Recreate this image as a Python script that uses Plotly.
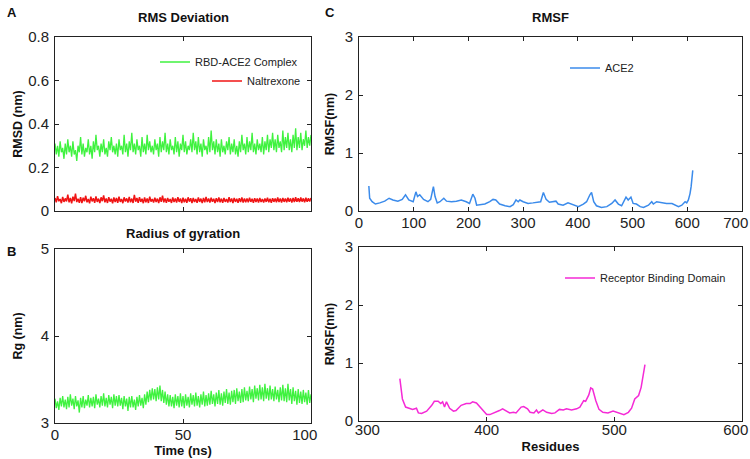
import numpy as np
import plotly.graph_objects as go

# time axis (ns), 0.5 ns per frame
time_ns = np.linspace(0, 100, 201)

rmsd_complex = [
    0.31, 0.26, 0.30, 0.25, 0.32, 0.27, 0.29, 0.24, 0.31, 0.26,
    0.33, 0.27, 0.30, 0.25, 0.32, 0.26, 0.28, 0.23, 0.30, 0.27,
    0.34, 0.26, 0.31, 0.25, 0.29, 0.27, 0.33, 0.26, 0.30, 0.24,
    0.32, 0.27, 0.35, 0.28, 0.30, 0.25, 0.31, 0.27, 0.33, 0.26,
    0.29, 0.25, 0.32, 0.28, 0.34, 0.27, 0.30, 0.26, 0.31, 0.25,
    0.33, 0.28, 0.30, 0.26, 0.35, 0.27, 0.31, 0.25, 0.32, 0.28,
    0.36, 0.27, 0.31, 0.26, 0.33, 0.28, 0.30, 0.25, 0.34, 0.27,
    0.31, 0.26, 0.35, 0.28, 0.32, 0.27, 0.30, 0.26, 0.33, 0.28,
    0.31, 0.25, 0.34, 0.27, 0.32, 0.28, 0.36, 0.27, 0.31, 0.26,
    0.33, 0.28, 0.30, 0.26, 0.34, 0.27, 0.32, 0.25, 0.31, 0.28,
    0.35, 0.27, 0.32, 0.26, 0.30, 0.28, 0.33, 0.27, 0.36, 0.28,
    0.32, 0.26, 0.34, 0.27, 0.31, 0.25, 0.33, 0.28, 0.30, 0.26,
    0.34, 0.27, 0.37, 0.28, 0.32, 0.26, 0.33, 0.27, 0.31, 0.25,
    0.33, 0.27, 0.30, 0.26, 0.32, 0.28, 0.34, 0.26, 0.31, 0.27,
    0.33, 0.26, 0.30, 0.25, 0.32, 0.27, 0.35, 0.28, 0.31, 0.26,
    0.34, 0.27, 0.32, 0.28, 0.36, 0.27, 0.31, 0.26, 0.33, 0.28,
    0.31, 0.27, 0.34, 0.26, 0.32, 0.28, 0.35, 0.27, 0.33, 0.29,
    0.36, 0.28, 0.33, 0.27, 0.35, 0.29, 0.32, 0.27, 0.37, 0.28,
    0.34, 0.29, 0.36, 0.28, 0.33, 0.27, 0.35, 0.29, 0.38, 0.28,
    0.34, 0.29, 0.36, 0.28, 0.33, 0.30, 0.37, 0.29, 0.34, 0.30,
    0.35,
]

rmsd_naltrexone = [
    0.060, 0.040, 0.068, 0.045, 0.055, 0.036, 0.065, 0.042, 0.058, 0.044,
    0.075, 0.040, 0.060, 0.035, 0.066, 0.046, 0.080, 0.041, 0.056, 0.038,
    0.064, 0.036, 0.061, 0.045, 0.070, 0.040, 0.055, 0.035, 0.066, 0.044,
    0.059, 0.038, 0.067, 0.042, 0.057, 0.036, 0.063, 0.045, 0.072, 0.040,
    0.058, 0.037, 0.064, 0.043, 0.056, 0.035, 0.062, 0.041, 0.060, 0.038,
    0.066, 0.042, 0.055, 0.036, 0.063, 0.044, 0.058, 0.039, 0.065, 0.040,
    0.057, 0.037, 0.074, 0.043, 0.060, 0.038, 0.064, 0.042, 0.056, 0.036,
    0.062, 0.040, 0.058, 0.037, 0.066, 0.043, 0.055, 0.039, 0.061, 0.041,
    0.057, 0.036, 0.063, 0.042, 0.071, 0.040, 0.058, 0.038, 0.060, 0.043,
    0.055, 0.037, 0.062, 0.041, 0.057, 0.039, 0.064, 0.042, 0.058, 0.036,
    0.061, 0.040, 0.056, 0.038, 0.063, 0.043, 0.059, 0.037, 0.060, 0.041,
    0.055, 0.038, 0.062, 0.042, 0.057, 0.036, 0.060, 0.040, 0.065, 0.041,
    0.058, 0.039, 0.061, 0.043, 0.056, 0.037, 0.059, 0.041, 0.062, 0.040,
    0.057, 0.038, 0.060, 0.042, 0.055, 0.039, 0.063, 0.041, 0.058, 0.037,
    0.060, 0.042, 0.056, 0.038, 0.059, 0.041, 0.062, 0.039, 0.057, 0.040,
    0.058, 0.040, 0.061, 0.042, 0.056, 0.038, 0.059, 0.041, 0.057, 0.039,
    0.060, 0.041, 0.055, 0.039, 0.058, 0.042, 0.061, 0.040, 0.056, 0.038,
    0.059, 0.042, 0.057, 0.040, 0.062, 0.041, 0.058, 0.039, 0.060, 0.042,
    0.057, 0.040, 0.061, 0.043, 0.058, 0.039, 0.060, 0.041, 0.063, 0.042,
    0.059, 0.041, 0.062, 0.043, 0.058, 0.040, 0.061, 0.042, 0.059, 0.044,
    0.060,
]

rg_complex = [
    3.28, 3.17, 3.25, 3.15, 3.29, 3.19, 3.31, 3.18, 3.27, 3.16,
    3.30, 3.18, 3.33, 3.20, 3.28, 3.16, 3.31, 3.19, 3.26, 3.12,
    3.29, 3.18, 3.31, 3.17, 3.27, 3.20, 3.32, 3.18, 3.29, 3.19,
    3.30, 3.17, 3.33, 3.21, 3.28, 3.18, 3.31, 3.20, 3.34, 3.19,
    3.29, 3.18, 3.32, 3.21, 3.30, 3.17, 3.33, 3.20, 3.31, 3.19,
    3.32, 3.20, 3.29, 3.16, 3.31, 3.19, 3.28, 3.14, 3.30, 3.18,
    3.31, 3.18, 3.27, 3.15, 3.30, 3.19, 3.32, 3.20, 3.29, 3.17,
    3.33, 3.21, 3.36, 3.24, 3.38, 3.26, 3.40, 3.27, 3.39, 3.25,
    3.41, 3.27, 3.43, 3.25, 3.38, 3.23, 3.36, 3.21, 3.33, 3.19,
    3.32, 3.19, 3.30, 3.17, 3.33, 3.20, 3.31, 3.18, 3.34, 3.19,
    3.31, 3.17, 3.33, 3.20, 3.30, 3.18, 3.34, 3.21, 3.32, 3.19,
    3.35, 3.20, 3.31, 3.18, 3.33, 3.21, 3.36, 3.19, 3.32, 3.20,
    3.34, 3.21, 3.37, 3.22, 3.33, 3.19, 3.35, 3.22, 3.38, 3.21,
    3.34, 3.20, 3.36, 3.23, 3.39, 3.22, 3.35, 3.21, 3.37, 3.24,
    3.38, 3.22, 3.40, 3.25, 3.36, 3.23, 3.39, 3.24, 3.41, 3.26,
    3.37, 3.25, 3.42, 3.27, 3.39, 3.24, 3.43, 3.28, 3.40, 3.26,
    3.44, 3.27, 3.41, 3.25, 3.45, 3.28, 3.40, 3.26, 3.43, 3.27,
    3.39, 3.25, 3.42, 3.27, 3.38, 3.24, 3.41, 3.26, 3.44, 3.25,
    3.40, 3.24, 3.45, 3.26, 3.39, 3.22, 3.41, 3.25, 3.37, 3.21,
    3.39, 3.23, 3.36, 3.22, 3.38, 3.24, 3.35, 3.21, 3.38, 3.23,
    3.33,
]

ace2_res = [
    18, 19.5, 24, 30, 38, 47, 55, 62, 71, 79,
    85, 91, 99, 104, 107, 111, 118, 126, 131, 136,
    139, 143, 148, 155, 160, 169, 178, 187, 196, 202,
    208, 212, 215, 221, 230, 239, 245, 250, 257, 267,
    276, 282, 287, 291, 294, 300, 309, 318, 327, 332,
    337, 342, 348, 355, 360, 364, 373, 382, 392, 401,
    410, 416, 422, 425, 429, 434, 443, 453, 462, 468,
    474, 480, 488, 492, 497, 501, 507, 514, 520, 529,
    535, 538, 544, 553, 562, 572, 578, 584, 590, 596,
    599, 602, 605, 607, 610,
]
ace2_rmsf = [
    0.43, 0.22, 0.16, 0.12, 0.14, 0.17, 0.22, 0.19, 0.17, 0.20,
    0.28, 0.19, 0.16, 0.33, 0.25, 0.28, 0.20, 0.16, 0.20, 0.42,
    0.25, 0.14, 0.16, 0.22, 0.17, 0.16, 0.17, 0.19, 0.16, 0.13,
    0.29, 0.22, 0.10, 0.11, 0.12, 0.16, 0.20, 0.19, 0.12, 0.09,
    0.075, 0.11, 0.19, 0.16, 0.19, 0.16, 0.13, 0.14, 0.16, 0.16,
    0.32, 0.20, 0.15, 0.16, 0.17, 0.12, 0.10, 0.14, 0.10, 0.075,
    0.12, 0.16, 0.28, 0.32, 0.16, 0.09, 0.06, 0.075, 0.13, 0.19,
    0.12, 0.09, 0.24, 0.19, 0.24, 0.13, 0.12, 0.075, 0.06, 0.10,
    0.16, 0.12, 0.16, 0.14, 0.13, 0.13, 0.10, 0.075, 0.10, 0.16,
    0.14, 0.19, 0.30, 0.42, 0.70,
]

rbd_res = [
    332, 334, 336.5, 340, 342, 345, 346.5, 349, 353, 357,
    359, 362, 364, 365.5, 367, 368.5, 371, 374, 376, 380,
    384, 387, 389, 392, 395, 397, 400, 402.5, 406, 410,
    412.5, 415.5, 418, 421, 423, 427, 429, 432, 434, 437,
    439, 440.5, 443, 444, 447, 451, 453.5, 457, 460, 462.5,
    466.5, 470.5, 473, 476, 477.5, 480, 481.5, 483, 485.5, 488,
    491, 495, 499, 502, 504.5, 507.5, 511, 513.5, 516, 519,
    521, 523, 524,
]
rbd_rmsf = [
    0.73, 0.38, 0.24, 0.22, 0.20, 0.22, 0.14, 0.13, 0.17, 0.27,
    0.34, 0.34, 0.30, 0.33, 0.24, 0.33, 0.22, 0.17, 0.18, 0.27,
    0.30, 0.30, 0.33, 0.31, 0.24, 0.18, 0.11, 0.11, 0.14, 0.18,
    0.21, 0.17, 0.14, 0.15, 0.14, 0.24, 0.25, 0.21, 0.15, 0.14,
    0.19, 0.14, 0.18, 0.19, 0.15, 0.13, 0.14, 0.20, 0.19, 0.21,
    0.19, 0.21, 0.24, 0.35, 0.34, 0.45, 0.57, 0.55, 0.35, 0.20,
    0.15, 0.14, 0.17, 0.15, 0.14, 0.11, 0.15, 0.22, 0.38, 0.44,
    0.58, 0.84, 0.97,
]

GREEN = '#3ff23f'
RED = '#f01414'
BLUE = '#3b8beb'
MAGENTA = '#f52ad6'
FONT = 'Liberation Sans, Arial, sans-serif'

fig = go.Figure()
fig.add_trace(go.Scatter(x=time_ns, y=rmsd_complex, mode='lines', name='RBD-ACE2 Complex',
                         line=dict(color=GREEN, width=1.3), xaxis='x', yaxis='y', legend='legend'))
fig.add_trace(go.Scatter(x=time_ns, y=rmsd_naltrexone, mode='lines', name='Naltrexone',
                         line=dict(color=RED, width=1.5), xaxis='x', yaxis='y', legend='legend2'))
fig.add_trace(go.Scatter(x=time_ns, y=rg_complex, mode='lines', name='Rg',
                         line=dict(color=GREEN, width=1.3), xaxis='x2', yaxis='y2', showlegend=False))
fig.add_trace(go.Scatter(x=ace2_res, y=ace2_rmsf, mode='lines', name='ACE2',
                         line=dict(color=BLUE, width=1.5), xaxis='x3', yaxis='y3', legend='legend3'))
fig.add_trace(go.Scatter(x=rbd_res, y=rbd_rmsf, mode='lines', name='Receptor Binding Domain',
                         line=dict(color=MAGENTA, width=1.5), xaxis='x4', yaxis='y4', legend='legend4'))

W, H = 750, 459


def px(x):
    return x / W


def py(y):
    return 1 - y / H


axis_style = dict(showline=True, linecolor='#222', linewidth=1, mirror='ticks', ticks='inside',
                  ticklen=4, tickcolor='#222', showgrid=False, zeroline=False, automargin=False,
                  ticklabeloverflow='allow',
                  tickfont=dict(size=15, color='#222', family=FONT))
ytitle = dict(size=12.5, color='#111', family=FONT, weight='bold')
xtitle = dict(size=13, color='#111', family=FONT, weight='bold')

leg = dict(bgcolor='rgba(0,0,0,0)', font=dict(size=11, color='#222', family=FONT),
           xanchor='left', yanchor='middle', itemclick=False)

# labels at the right-hand edge sit a little inside, as in the original figure
pad = '&nbsp;' * 3

fig.update_layout(
    width=W, height=H, margin=dict(l=0, r=0, t=0, b=0, autoexpand=False),
    paper_bgcolor='white', plot_bgcolor='white',
    font=dict(family=FONT, color='#222'),
    xaxis=dict(axis_style, domain=[px(55), px(311)], range=[0, 100], tickvals=[0, 50, 100],
               showticklabels=False, anchor='y'),
    yaxis=dict(axis_style, domain=[py(211), py(37)], range=[0, 0.8], tickvals=[0, 0.2, 0.4, 0.6, 0.8],
               ticktext=['0', '0.2', '0.4', '0.6', '0.8'], anchor='x', ticklabelstandoff=2,
               title=dict(text='RMSD (nm)', font=ytitle, standoff=2)),
    xaxis2=dict(axis_style, domain=[px(55), px(311)], range=[0, 100], tickvals=[0, 50, 100],
                ticktext=['0', '50', '100' + pad], anchor='y2', ticklabelstandoff=-2,
                title=dict(text='Time (ns)', font=xtitle, standoff=0)),
    yaxis2=dict(axis_style, domain=[py(423), py(249)], range=[3, 5], tickvals=[3, 4, 5], anchor='x2',
                ticklabelstandoff=2, title=dict(text='Rg (nm)', font=ytitle, standoff=15)),
    xaxis3=dict(axis_style, domain=[px(359), px(742)], range=[0, 700],
                tickvals=[0, 100, 200, 300, 400, 500, 600, 700],
                ticktext=['0', '100', '200', '300', '400', '500', '600', '700' + pad],
                anchor='y3', ticklabelstandoff=-2),
    yaxis3=dict(axis_style, domain=[py(211), py(37)], range=[0, 3], tickvals=[0, 1, 2, 3], anchor='x3',
                ticklabelstandoff=2, title=dict(text='RMSF(nm)', font=ytitle, standoff=7)),
    xaxis4=dict(axis_style, domain=[px(359), px(742)], range=[300, 600], tickvals=[300, 400, 500, 600],
                ticktext=['&nbsp;' * 4 + '300', '400', '500', '600' + pad], anchor='y4',
                ticklabelstandoff=-5, title=dict(text='Residues', font=xtitle, standoff=4)),
    yaxis4=dict(axis_style, domain=[py(421), py(247)], range=[0, 3], tickvals=[0, 1, 2, 3], anchor='x4',
                ticklabelstandoff=2, title=dict(text='RMSF(nm)', font=ytitle, standoff=7)),
    legend=dict(leg, x=px(155), y=py(62)),
    legend2=dict(leg, x=px(207), y=py(81)),
    legend3=dict(leg, x=px(565), y=py(68)),
    legend4=dict(leg, x=px(560), y=py(278)),
)

annotations = [
    ('A', 5, 12), ('B', 5, 251), ('C', 323, 12),
]
for letter, ax_, ay_ in annotations:
    fig.add_annotation(text=letter, x=px(ax_), y=py(ay_), xref='paper', yref='paper',
                       showarrow=False, xanchor='left', yanchor='middle',
                       font=dict(size=13, family=FONT, color='#111', weight='bold'))

titles = [
    ('RMS Deviation', 183, 18), ('Radius of gyration', 183, 233), ('RMSF', 550, 18),
]
for txt, tx, ty in titles:
    fig.add_annotation(text=txt, x=px(tx), y=py(ty), xref='paper', yref='paper',
                       showarrow=False, xanchor='center', yanchor='middle',
                       font=dict(size=13, family=FONT, color='#111', weight='bold'))

fig.write_html("out.html", config=dict(displayModeBar=False),
               post_script="document.body.style.margin='0';")
